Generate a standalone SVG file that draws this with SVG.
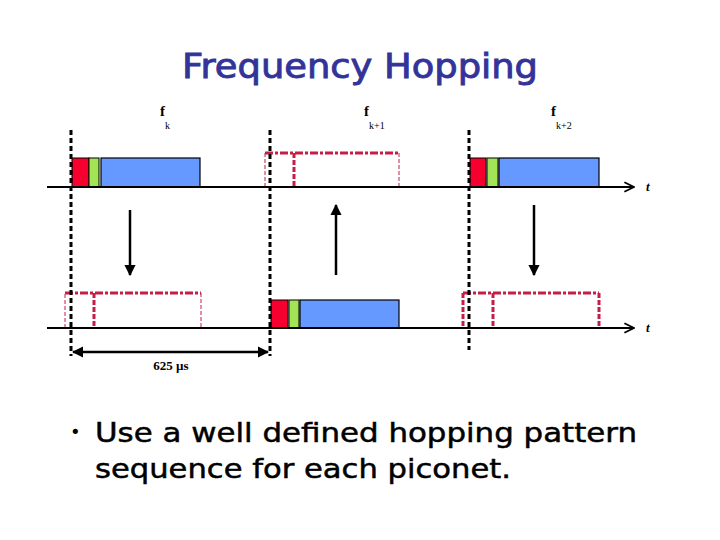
<svg xmlns="http://www.w3.org/2000/svg" width="720" height="540" viewBox="0 0 720 540">
<style>
.title{font-family:"DejaVu Sans","Liberation Sans",sans-serif;font-size:34px;fill:#333399;stroke:#333399;stroke-width:0.9}
.body{font-family:"DejaVu Sans","Liberation Sans",sans-serif;font-size:27px;fill:#000;stroke:#000;stroke-width:0.5}
.bullet{font-family:"DejaVu Sans","Liberation Sans",sans-serif;font-size:18px;fill:#000}
.f{font-family:"Liberation Serif",serif;font-weight:bold;font-size:15px;fill:#000}
.sub{font-family:"Liberation Serif",serif;font-size:10px;fill:#000}
.lbl{font-family:"Liberation Serif",serif;font-weight:bold;font-size:13px;fill:#000}
.t{font-family:"Liberation Serif",serif;font-style:italic;font-weight:bold;font-size:13px;fill:#000}
.axis{stroke:#000;stroke-width:2;fill:none}
.vdash{stroke:#000;stroke-width:3;stroke-dasharray:5 3;fill:none}
.thin{stroke:#C41E48;stroke-width:1;stroke-dasharray:4 2;fill:none}
.topd{stroke:#C41E48;stroke-width:3;stroke-dasharray:8 2 3 2;fill:none}
.thick{stroke:#C41E48;stroke-width:3;stroke-dasharray:5 2;fill:none}
.red{fill:#F5002F;stroke:#000;stroke-width:1}
.green{fill:#A2E456;stroke:#000;stroke-width:1}
.blue{fill:#6699FF;stroke:#000;stroke-width:1.2}
.arr{stroke:#000;stroke-width:2.5;fill:none}
</style>
<defs>
<marker id="head" viewBox="0 0 10 10" refX="9" refY="5" markerWidth="4.5" markerHeight="4.5" orient="auto-start-reverse" markerUnits="strokeWidth">
<path d="M0,0 L10,5 L0,10 z" fill="#000"/>
</marker>
<marker id="open" viewBox="0 0 10 10" refX="9" refY="5" markerWidth="6" markerHeight="6" orient="auto" markerUnits="strokeWidth">
<path d="M1,1 L9,5 L1,9" fill="none" stroke="#000" stroke-width="1.5"/>
</marker>
</defs>
<rect width="720" height="540" fill="#fff"/>
<text class="title" x="360" y="78" text-anchor="middle" textLength="356" lengthAdjust="spacingAndGlyphs">Frequency Hopping</text>

<g id="labels">
<text class="f" x="160" y="116">f</text><text class="sub" x="165" y="129">k</text>
<text class="f" x="364" y="116">f</text><text class="sub" x="369" y="129">k+1</text>
<text class="f" x="551" y="116">f</text><text class="sub" x="556" y="129">k+2</text>
<text class="t" x="646" y="191">t</text>
<text class="t" x="646" y="332">t</text>
<text class="lbl" x="171" y="370" text-anchor="middle">625 µs</text>
</g>

<g id="ghosts">
<path class="thin" d="M265,187 V153 M399,153 V187"/>
<path class="topd" d="M265,153 H399"/>
<path class="thick" d="M294,153 V187"/>
<path class="thin" d="M65,328 V293 M201,293 V328"/>
<path class="topd" d="M65,293 H201"/>
<path class="thick" d="M94,293 V328"/>
<path class="thick" d="M599,293 V328 M463,293 V328"/>
<path class="topd" d="M463,293 H599"/>
<path class="thick" d="M493,293 V328"/>
</g>

<g id="packet1">
<rect class="red" x="72" y="158" width="17" height="29"/>
<rect class="green" x="89" y="158" width="10" height="29"/>
<rect class="blue" x="101" y="158" width="99" height="29"/>
</g>
<g id="packet2">
<rect class="red" x="271" y="300" width="17" height="28"/>
<rect class="green" x="289" y="300" width="10" height="28"/>
<rect class="blue" x="300" y="300" width="99" height="28"/>
</g>
<g id="packet3">
<rect class="red" x="470" y="158" width="16" height="29"/>
<rect class="green" x="487" y="158" width="11" height="29"/>
<rect class="blue" x="499" y="158" width="100" height="29"/>
</g>

<g id="connectors">
<path class="axis" d="M47,187 H634" marker-end="url(#open)"/>
<path class="axis" d="M47,328 H634" stroke-width="1.5" marker-end="url(#open)"/>
<path class="vdash" d="M71,130 V356"/>
<path class="vdash" d="M270,130 V356"/>
<path class="vdash" d="M469,130 V350"/>
<path class="arr" d="M130,210 V275" marker-end="url(#head)"/>
<path class="arr" d="M336,275 V205" marker-end="url(#head)"/>
<path class="arr" d="M534,205 V275" marker-end="url(#head)"/>
<path class="arr" d="M73,352 H268" marker-start="url(#head)" marker-end="url(#head)"/>
</g>

<g id="text">
<text class="bullet" x="70" y="438">•</text>
<text class="body" x="95" y="442" textLength="542" lengthAdjust="spacingAndGlyphs">Use a well defined hopping pattern</text>
<text class="body" x="95" y="478" textLength="416" lengthAdjust="spacingAndGlyphs">sequence for each piconet.</text>
</g>
</svg>
